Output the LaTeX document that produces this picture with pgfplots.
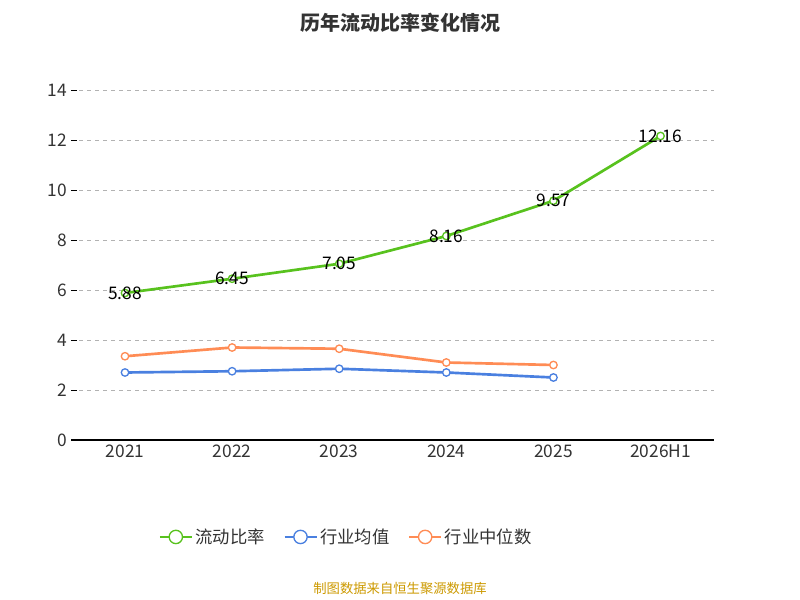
\documentclass[border=0pt]{standalone}
\usepackage{pgfplots}
\pgfplotsset{compat=1.18}
\usepackage{fontspec}
\setmainfont{Noto Sans CJK SC}
\definecolor{cg}{RGB}{88,194,30}
\definecolor{cb}{RGB}{74,128,224}
\definecolor{co}{RGB}{255,140,85}
\definecolor{tx}{RGB}{51,51,51}
\begin{document}
\begin{tikzpicture}
\path (0pt,0pt) rectangle (600pt,450pt);
\node[font=\bfseries\fontsize{15pt}{18pt}\selectfont,text=tx] at (300pt,433pt) {历年流动比率变化情况};
\node[font=\fontsize{10pt}{12pt}\selectfont,text={rgb,255:red,204;green,153;blue,0}] at (300pt,8.5pt) {制图数据来自恒生聚源数据库};
\begin{axis}[at={(93.75pt,120pt)},anchor=origin,scale only axis,width=482pt,height=262.5pt,
  xmin=-0.5,xmax=5.5,ymin=0,ymax=14,
  xtick={0,...,5},xticklabels={2021,2022,2023,2024,2025,2026H1},
  major x tick style={draw=none},
  extra x ticks={-0.5,0.5,1.5,2.5,3.5,4.5,5.5},extra x tick labels={},
  extra x tick style={major tick length=6pt,tick style={draw=black,thick}, grid=none},
  ytick={0,2,...,14},ymajorgrids,grid style={dashed,gray!60},
  axis y line*=left, axis x line*=bottom,
  y axis line style={draw=none},
  x axis line style={thick,-},
  ytick style={draw=black},
  tick label style={font=\fontsize{13pt}{15pt}\selectfont,text=tx},
  /pgf/number format/assume math mode=true,
  legend style={at={(0.428,-0.277)},anchor=center,draw=none,legend columns=3,
    font=\fontsize{13pt}{15pt}\selectfont,text=tx,/tikz/every even column/.append style={column sep=12pt}},
  legend image code/.code={\draw[#1,line width=1.5pt] (0pt,0pt)--(24pt,0pt); \draw[#1,fill=white,line width=1pt] (12pt,0pt) circle (5pt);},
  every axis plot/.append style={line width=2pt,mark=*,mark size=2.8pt,mark options={fill=white,line width=1pt}},
]
\addplot[cg,nodes near coords,point meta=explicit symbolic,
  every node near coord/.style={anchor=center,font=\fontsize{13pt}{15pt}\selectfont,text=black}]
  coordinates {(0,5.88)[5.88] (1,6.45)[6.45] (2,7.05)[7.05] (3,8.16)[8.16] (4,9.57)[9.57] (5,12.16)[12.16]};
\addlegendentry{流动比率}
\addplot[cb] coordinates {(0,2.70) (1,2.75) (2,2.85) (3,2.70) (4,2.50)};
\addlegendentry{行业均值}
\addplot[co] coordinates {(0,3.35) (1,3.70) (2,3.65) (3,3.10) (4,3.00)};
\addlegendentry{行业中位数}
\end{axis}
\end{tikzpicture}
\end{document}
